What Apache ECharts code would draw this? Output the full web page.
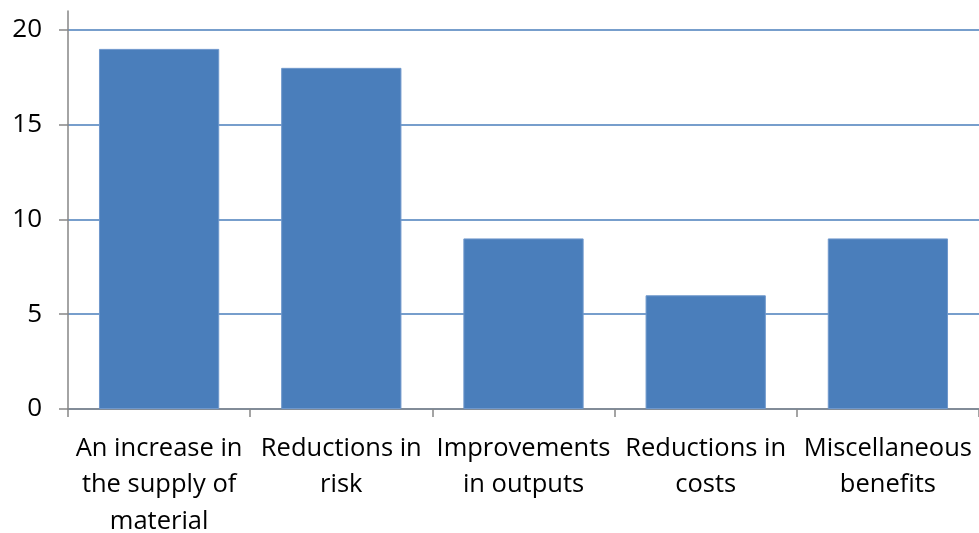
<!DOCTYPE html>
<html>
<head>
<meta charset="utf-8">
<script src="https://cdn.jsdelivr.net/npm/echarts@6/dist/echarts.min.js"></script>
<style>
html,body{margin:0;padding:0;background:#fff;}
#chart{width:979px;height:533px;}
</style>
</head>
<body>
<div id="chart"></div>
<script>
const categories = [
  'An increase in\nthe supply of\nmaterial',
  'Reductions in\nrisk',
  'Improvements\nin outputs',
  'Reductions in\ncosts',
  'Miscellaneous\nbenefits'
];
const values = [19, 18, 9, 6, 9];
const yTicks = [0, 5, 10, 15, 20];

const chart = echarts.init(document.getElementById('chart'));
const font = '"Open Sans", "Liberation Sans", sans-serif';
chart.setOption({
  animation: false,
  backgroundColor: '#ffffff',
  grid: { left: 68, right: 0, top: 11, bottom: 124, outerBoundsMode: 'none', containLabel: false },
  xAxis: {
    type: 'category',
    data: categories,
    axisLine: { show: true, lineStyle: { color: '#868686', width: 1.5 } },
    axisTick: { show: true, length: 8, lineStyle: { color: '#868686', width: 1.5 } },
    axisLabel: { color: '#000', fontFamily: font, fontSize: 25.5, lineHeight: 36.5, margin: 21, interval: 0 },
    splitLine: { show: false }
  },
  yAxis: {
    type: 'value',
    min: 0,
    max: 21,
    interval: 5,
    axisLine: { show: true, lineStyle: { color: '#868686', width: 1.5 } },
    axisTick: { show: true, length: 9, customValues: yTicks, lineStyle: { color: '#868686', width: 1.5 } },
    axisLabel: { color: '#000', fontFamily: font, fontSize: 26, margin: 26, customValues: yTicks },
    splitLine: { show: true, lineStyle: { color: '#4a7ebb', width: 1.5 } }
  },
  series: [{
    type: 'bar',
    data: values,
    barWidth: '66%',
    itemStyle: { color: '#4a7ebb', borderColor: '#6f98cc', borderWidth: 1 }
  }]
});
</script>
</body>
</html>
